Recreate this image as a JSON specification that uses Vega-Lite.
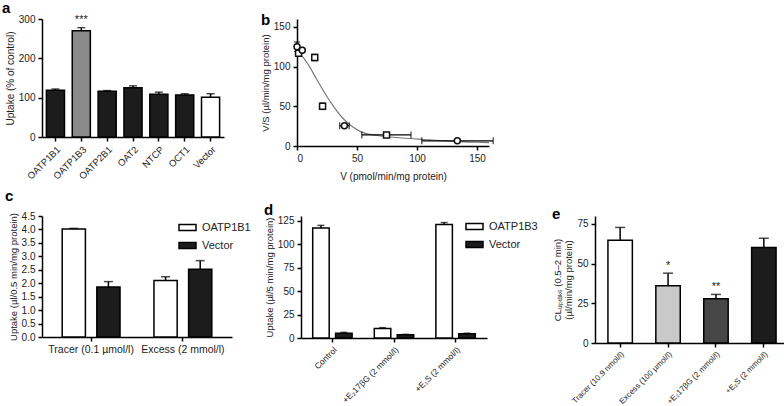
{
 "$schema": "https://vega.github.io/schema/vega-lite/v6.json",
 "padding": {"left": 2, "top": 0, "right": 0, "bottom": 0},
 "background": "white",
 "config": {
  "font": "Liberation Sans",
  "view": {"stroke": null},
  "axis": {"domainColor": "black", "domainWidth": 1.5, "tickColor": "black", "tickWidth": 1.5, "tickSize": 4, "grid": false, "labelFontSize": 10, "labelColor": "#222", "titleFontSize": 10, "titleColor": "#222", "titleFontWeight": "normal", "labelPadding": 3, "titlePadding": 3, "labelOverlap": false},
  "title": {"fontSize": 15, "fontWeight": "bold", "anchor": "start", "frame": "group", "color": "black", "offset": 0},
  "legend": {"labelFontSize": 11, "labelColor": "#222", "symbolStrokeColor": "black", "symbolStrokeWidth": 1.5, "rowPadding": 2, "labelOffset": 5, "title": null}
 },
 "resolve": {"scale": {"fill": "independent", "shape": "independent", "xOffset": "independent"}, "legend": {"fill": "independent"}},
 "vconcat": [
  {
   "spacing": 36,
   "resolve": {"scale": {"fill": "independent", "shape": "independent"}, "legend": {"fill": "independent"}},
   "hconcat": [
    {
     "width": 182, "height": 118,
     "title": {"text": "a", "dx": -40, "offset": -2},
     "data": {"values": [
      {"t": "OATP1B1", "v": 119, "hi": 122, "c": "k", "star": ""},
      {"t": "OATP1B3", "v": 270, "hi": 278, "c": "g", "star": "***"},
      {"t": "OATP2B1", "v": 116, "hi": 118, "c": "k", "star": ""},
      {"t": "OAT2", "v": 125, "hi": 130, "c": "k", "star": ""},
      {"t": "NTCP", "v": 109, "hi": 114, "c": "k", "star": ""},
      {"t": "OCT1", "v": 107, "hi": 110, "c": "k", "star": ""},
      {"t": "Vector", "v": 101, "hi": 110, "c": "w", "star": ""}
     ]},
     "encoding": {"x": {"field": "t", "type": "nominal", "sort": null, "scale": {"paddingInner": 0.3, "paddingOuter": 0.17}, "axis": {"title": null, "labelAngle": -45, "labelFontSize": 9.5}}},
     "layer": [
      {"mark": {"type": "bar", "stroke": "black", "strokeWidth": 1.5},
       "encoding": {
        "y": {"field": "v", "type": "quantitative", "scale": {"domain": [0, 300]}, "axis": {"values": [0, 100, 200, 300], "title": "Uptake (% of control)"}},
        "fill": {"field": "c", "type": "nominal", "scale": {"domain": ["k", "g", "w"], "range": ["#1c1c1c", "#8a8a8a", "#ffffff"]}, "legend": null}}},
      {"mark": {"type": "rule", "strokeWidth": 1.5, "color": "black"}, "encoding": {"y": {"field": "v", "type": "quantitative", "axis": {"values": [0, 100, 200, 300], "title": "Uptake (% of control)"}}, "y2": {"field": "hi"}}},
      {"mark": {"type": "tick", "thickness": 1.5, "size": 8, "color": "black"}, "encoding": {"y": {"field": "hi", "type": "quantitative", "axis": {"values": [0, 100, 200, 300], "title": "Uptake (% of control)"}}}},
      {"mark": {"type": "text", "dy": -3, "baseline": "bottom", "fontSize": 11, "color": "#222"}, "encoding": {"y": {"field": "hi", "type": "quantitative", "axis": {"values": [0, 100, 200, 300], "title": "Uptake (% of control)"}}, "text": {"field": "star"}}}
     ]
    },
    {
     "width": 192, "height": 127,
     "title": {"text": "b", "dx": -36, "offset": -9},
     "layer": [
      {"data": {"values": [
        {"x": 0, "y": 119}, {"x": 4.4, "y": 113}, {"x": 9.6, "y": 102}, {"x": 16, "y": 85}, {"x": 22.6, "y": 68}, {"x": 30.4, "y": 50}, {"x": 38.2, "y": 35}, {"x": 46, "y": 24.5}, {"x": 53.8, "y": 17.5}, {"x": 66.8, "y": 13.2}, {"x": 87.6, "y": 10.1}, {"x": 105.8, "y": 8.2}, {"x": 126.6, "y": 6.2}, {"x": 150, "y": 4.7}, {"x": 160, "y": 4.2}
       ]},
       "mark": {"type": "line", "color": "#777", "strokeWidth": 1.2, "interpolate": "monotone", "clip": false},
       "encoding": {
        "x": {"field": "x", "type": "quantitative", "scale": {"domain": [0, 150]}, "axis": {"values": [0, 50, 100, 150], "title": "V (pmol/min/mg protein)", "titlePadding": 8}},
        "y": {"field": "y", "type": "quantitative", "scale": {"domain": [0, 150]}, "axis": {"values": [0, 50, 100, 150], "title": "V/S (µl/min/mg protein)", "titleFontSize": 9.5}}}},
      {"data": {"name": "pts"}, "layer": [
       {"mark": {"type": "rule", "strokeWidth": 1.3, "color": "black", "clip": false}, "encoding": {"x": {"field": "xlo", "type": "quantitative"}, "x2": {"field": "xhi"}, "y": {"field": "y", "type": "quantitative"}}},
       {"mark": {"type": "rule", "strokeWidth": 1.3, "color": "black"}, "encoding": {"y": {"field": "ylo", "type": "quantitative"}, "y2": {"field": "yhi"}, "x": {"field": "x", "type": "quantitative"}}},
       {"mark": {"type": "tick", "orient": "vertical", "thickness": 1.3, "size": 7, "color": "black", "clip": false}, "encoding": {"x": {"field": "xlo", "type": "quantitative"}, "y": {"field": "y", "type": "quantitative"}}},
       {"mark": {"type": "tick", "orient": "vertical", "thickness": 1.3, "size": 7, "color": "black", "clip": false}, "encoding": {"x": {"field": "xhi", "type": "quantitative"}, "y": {"field": "y", "type": "quantitative"}}},
       {"mark": {"type": "tick", "orient": "horizontal", "thickness": 1.3, "size": 6, "color": "black"}, "encoding": {"y": {"field": "ylo", "type": "quantitative"}, "x": {"field": "x", "type": "quantitative"}}},
       {"mark": {"type": "tick", "orient": "horizontal", "thickness": 1.3, "size": 6, "color": "black"}, "encoding": {"y": {"field": "yhi", "type": "quantitative"}, "x": {"field": "x", "type": "quantitative"}}},
       {"mark": {"type": "point", "filled": false, "strokeWidth": 1.5, "size": 36, "color": "#111", "fill": "white", "fillOpacity": 1},
        "encoding": {"x": {"field": "x", "type": "quantitative"}, "y": {"field": "y", "type": "quantitative"},
         "shape": {"field": "m", "type": "nominal", "scale": {"domain": ["c", "s"], "range": ["circle", "square"]}, "legend": null}}}
      ]}
     ]
    }
   ]
  },
  {
   "spacing": 14,
   "resolve": {"scale": {"fill": "independent", "xOffset": "independent"}, "legend": {"fill": "independent"}},
   "hconcat": [
    {
     "spacing": 13,
     "resolve": {"scale": {"fill": "independent", "xOffset": "independent"}, "legend": {"fill": "independent"}},
     "hconcat": [
      {
       "width": 190, "height": 121,
       "title": {"text": "c", "dx": -37, "offset": 7},
       "data": {"values": [
        {"g": "Tracer (0.1 µmol/l)", "s": "OATP1B1", "v": 4.02, "hi": 4.04},
        {"g": "Tracer (0.1 µmol/l)", "s": "Vector", "v": 1.86, "hi": 2.06},
        {"g": "Excess (2 mmol/l)", "s": "OATP1B1", "v": 2.1, "hi": 2.24},
        {"g": "Excess (2 mmol/l)", "s": "Vector", "v": 2.52, "hi": 2.84}
       ]},
       "encoding": {
        "x": {"field": "g", "type": "nominal", "sort": null, "scale": {"paddingInner": 0.37, "paddingOuter": 0.22}, "axis": {"title": null, "labelAngle": 0, "labelFontSize": 10.5}},
        "xOffset": {"field": "s", "type": "nominal", "sort": null, "scale": {"paddingInner": 0.33}}
       },
       "layer": [
        {"mark": {"type": "bar", "stroke": "black", "strokeWidth": 1.5},
         "encoding": {
          "y": {"field": "v", "type": "quantitative", "scale": {"domain": [0, 4.5]}, "axis": {"values": [0, 0.5, 1, 1.5, 2, 2.5, 3, 3.5, 4, 4.5], "format": ".1f", "title": "Uptake (µl/0.5 min/mg protein)", "titleFontSize": 9.5}},
          "fill": {"field": "s", "type": "nominal", "sort": null, "scale": {"domain": ["OATP1B1", "Vector"], "range": ["#ffffff", "#1c1c1c"]}, "legend": {"orient": "none", "legendX": 136, "legendY": 2, "symbolType": "M-1,-0.35H1V0.35H-1Z", "symbolSize": 289}}}},
        {"mark": {"type": "rule", "strokeWidth": 1.5, "color": "black"}, "encoding": {"y": {"field": "v", "type": "quantitative", "axis": {"values": [0, 0.5, 1, 1.5, 2, 2.5, 3, 3.5, 4, 4.5], "format": ".1f", "title": "Uptake (µl/0.5 min/mg protein)", "titleFontSize": 9.5}}, "y2": {"field": "hi"}}},
        {"mark": {"type": "tick", "thickness": 1.5, "size": 9, "color": "black"}, "encoding": {"y": {"field": "hi", "type": "quantitative", "axis": {"values": [0, 0.5, 1, 1.5, 2, 2.5, 3, 3.5, 4, 4.5], "format": ".1f", "title": "Uptake (µl/0.5 min/mg protein)", "titleFontSize": 9.5}}}}
       ]
      },
      {
       "width": 186, "height": 122,
       "title": {"text": "d", "dx": -37, "offset": -2},
       "data": {"values": [
        {"g": "Control", "s": "OATP1B3", "v": 117.2, "hi": 120},
        {"g": "Control", "s": "Vector", "v": 5.1, "hi": 6},
        {"g": "+E₂17βG (2 mmol/l)", "s": "OATP1B3", "v": 10.2, "hi": 11},
        {"g": "+E₂17βG (2 mmol/l)", "s": "Vector", "v": 3.4, "hi": 3.9},
        {"g": "+E₁S (2 mmol/l)", "s": "OATP1B3", "v": 121, "hi": 123},
        {"g": "+E₁S (2 mmol/l)", "s": "Vector", "v": 4.4, "hi": 5.1}
       ]},
       "encoding": {
        "x": {"field": "g", "type": "nominal", "sort": null, "scale": {"paddingInner": 0.36, "paddingOuter": 0.19}, "axis": {"title": null, "labelAngle": -45, "labelFontSize": 8.5}},
        "xOffset": {"field": "s", "type": "nominal", "sort": null, "scale": {"paddingInner": 0.28}}
       },
       "layer": [
        {"mark": {"type": "bar", "stroke": "black", "strokeWidth": 1.5},
         "encoding": {
          "y": {"field": "v", "type": "quantitative", "scale": {"domain": [0, 125]}, "axis": {"values": [0, 25, 50, 75, 100, 125], "title": "Uptake (µl/5 min/mg protein)", "titleFontSize": 9.5}},
          "fill": {"field": "s", "type": "nominal", "sort": null, "scale": {"domain": ["OATP1B3", "Vector"], "range": ["#ffffff", "#1c1c1c"]}, "legend": {"orient": "none", "legendX": 164, "legendY": 1, "symbolType": "M-1,-0.35H1V0.35H-1Z", "symbolSize": 289}}}},
        {"mark": {"type": "rule", "strokeWidth": 1.5, "color": "black"}, "encoding": {"y": {"field": "v", "type": "quantitative", "axis": {"values": [0, 25, 50, 75, 100, 125], "title": "Uptake (µl/5 min/mg protein)", "titleFontSize": 9.5}}, "y2": {"field": "hi"}}},
        {"mark": {"type": "tick", "thickness": 1.5, "size": 7, "color": "black"}, "encoding": {"y": {"field": "hi", "type": "quantitative", "axis": {"values": [0, 25, 50, 75, 100, 125], "title": "Uptake (µl/5 min/mg protein)", "titleFontSize": 9.5}}}}
       ]
      }
     ]
    },
    {
     "width": 194, "height": 127,
     "title": {"text": "e", "dx": -43, "offset": -8},
     "data": {"values": [
      {"t": "Tracer (10.9 nmol/l)", "v": 64.8, "hi": 72.8, "c": "w", "star": ""},
      {"t": "Excess (100 µmol/l)", "v": 36, "hi": 44, "c": "l", "star": "*"},
      {"t": "+E₂17βG (2 mmol/l)", "v": 27.8, "hi": 30.6, "c": "d", "star": "**"},
      {"t": "+E₁S (2 mmol/l)", "v": 60.2, "hi": 66, "c": "k", "star": ""}
     ]},
     "encoding": {"x": {"field": "t", "type": "nominal", "sort": null, "scale": {"paddingInner": 0.49, "paddingOuter": 0.27}, "axis": {"title": null, "labelAngle": -45, "labelFontSize": 8}}},
     "layer": [
      {"mark": {"type": "bar", "stroke": "black", "strokeWidth": 1.5},
       "encoding": {
        "y": {"field": "v", "type": "quantitative", "scale": {"domain": [0, 75]}, "axis": {"values": [0, 25, 50, 75], "title": ["CLᵤₚₜₐₖₑ (0.5–2 min)", "(µl/min/mg protein)"], "titleFontSize": 9.5}},
        "fill": {"field": "c", "type": "nominal", "scale": {"domain": ["w", "l", "d", "k"], "range": ["#ffffff", "#c9c9c9", "#474747", "#1c1c1c"]}, "legend": null}}},
      {"mark": {"type": "rule", "strokeWidth": 1.5, "color": "black"}, "encoding": {"y": {"field": "v", "type": "quantitative", "axis": {"values": [0, 25, 50, 75], "title": ["CLᵤₚₜₐₖₑ (0.5–2 min)", "(µl/min/mg protein)"], "titleFontSize": 9.5}}, "y2": {"field": "hi"}}},
      {"mark": {"type": "tick", "thickness": 1.5, "size": 10, "color": "black"}, "encoding": {"y": {"field": "hi", "type": "quantitative", "axis": {"values": [0, 25, 50, 75], "title": ["CLᵤₚₜₐₖₑ (0.5–2 min)", "(µl/min/mg protein)"], "titleFontSize": 9.5}}}},
      {"mark": {"type": "text", "dy": -2, "baseline": "bottom", "fontSize": 11, "color": "#222"}, "encoding": {"y": {"field": "hi", "type": "quantitative", "axis": {"values": [0, 25, 50, 75], "title": ["CLᵤₚₜₐₖₑ (0.5–2 min)", "(µl/min/mg protein)"], "titleFontSize": 9.5}}, "text": {"field": "star"}}}
     ]
    }
   ]
  }
 ],
 "spacing": 8,
 "datasets": {
  "pts": [
   {"x": 0, "y": 125, "xlo": -0.5, "xhi": 0.5, "ylo": 119, "yhi": 131, "m": "c"},
   {"x": 1.3, "y": 117, "xlo": 0.8, "xhi": 1.8, "ylo": 114, "yhi": 120, "m": "s"},
   {"x": 4.4, "y": 120.5, "xlo": 3.6, "xhi": 5.2, "ylo": 119, "yhi": 122, "m": "c"},
   {"x": 14.8, "y": 111.5, "xlo": 13.5, "xhi": 16.1, "ylo": 107.5, "yhi": 115.5, "m": "s"},
   {"x": 21.3, "y": 50, "xlo": 20, "xhi": 22.6, "ylo": 46, "yhi": 54, "m": "s"},
   {"x": 39.5, "y": 25.5, "xlo": 35.5, "xhi": 43.5, "ylo": 24, "yhi": 27, "m": "c"},
   {"x": 74.6, "y": 14, "xlo": 54, "xhi": 95, "ylo": 12, "yhi": 16, "m": "s"},
   {"x": 133.6, "y": 6.5, "xlo": 104, "xhi": 163.5, "ylo": 5.5, "yhi": 7.5, "m": "c"}
  ]
 }
}
